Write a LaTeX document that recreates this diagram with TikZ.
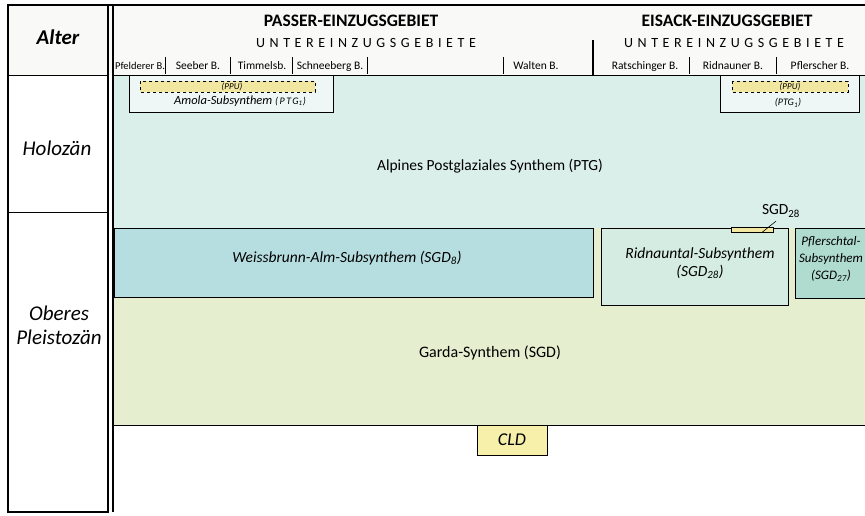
\documentclass[tikz,border=0pt]{standalone}
\usepackage{fontspec}
\setmainfont{Carlito}
\definecolor{hdrcol}{RGB}{249,249,247}
\definecolor{ptgcol}{RGB}{219,239,234}
\definecolor{wbacol}{RGB}{182,222,224}
\definecolor{ridcol}{RGB}{212,236,226}
\definecolor{pflcol}{RGB}{176,219,207}
\definecolor{sgdcol}{RGB}{229,239,207}
\definecolor{cldcol}{RGB}{246,240,170}
\definecolor{ppucol}{RGB}{241,231,160}
\definecolor{amocol}{RGB}{238,247,245}
\begin{document}
\begin{tikzpicture}[x=1pt,y=-1pt,line width=1pt,
  txt/.style={font=\fontsize{15.5}{18}\selectfont},
  itxt/.style={font=\fontsize{15.5}{18}\selectfont\itshape},
  age/.style={font=\fontsize{21}{24}\selectfont\itshape,align=center},
  head/.style={font=\fontsize{17.5}{20}\selectfont\bfseries},
  spaced/.style={font=\fontsize{14}{16}\selectfont\addfontfeature{LetterSpace=33}},
  basin/.style={font=\fontsize{11.5}{13}\selectfont,inner sep=0pt},
  sep/.style={line width=0.7pt}]
\useasboundingbox (0,0) rectangle (865,515);
% 背景色块
\fill[hdrcol] (8,5) rectangle (865,75);
\fill[ptgcol] (114,75) rectangle (865,228);
\fill[sgdcol] (114,228) rectangle (865,425);
% 年代栏与表头框线
\draw[line width=1.5pt] (8,5) rectangle (108,512);
\draw (8,75) -- (108,75);
\draw (8,212) -- (108,212);
\draw[line width=1.5pt] (113,5) -- (113,512);
\draw[line width=1.5pt] (108,5) -- (865,5);
\draw (113,75) -- (865,75);
\node[font=\fontsize{21}{24}\selectfont\bfseries\itshape] (alter) at (58,37) {Alter};
\node[age] (holo) at (57,148) {Holozän};
\node[age] (pleist) at (59,325) {Oberes\\Pleistozän};
% 流域表头
\node[head] (passer) at (351,21) {PASSER-EINZUGSGEBIET};
\node[spaced] (upasser) at (366,43) {UNTEREINZUGSGEBIETE};
\node[head] (eisack) at (727,21) {EISACK-EINZUGSGEBIET};
\node[spaced] (ueisack) at (734,43) {UNTEREINZUGSGEBIETE};
\draw[line width=1.2pt] (593,40) -- (593,75);
% 子流域
\node[basin,font=\fontsize{10.5}{12}\selectfont] (pfelderer) at (140,66) {Pfelderer B.};
\node[basin] (seeber) at (198,66) {Seeber B.};
\node[basin] (timmels) at (262,66) {Timmelsb.};
\node[basin] (schneeberg) at (330,66) {Schneeberg B.};
\node[basin] (walten) at (536,66) {Walten B.};
\node[basin] (ratsch) at (645,66) {Ratschinger B.};
\node[basin] (ridnaun) at (733,66) {Ridnauner B.};
\node[basin] (pflersch) at (820,66) {Pflerscher B.};
\foreach \x in {165,230,292,367,503,689,776}
  \draw[sep] (\x,57) -- (\x,74);
% 全新世单元
\node[txt] (ptg) at (490,166) {Alpines Postglaziales Synthem (PTG)};
\draw[fill=amocol] (129,75) rectangle (333,112);
\draw[dashed,fill=ppucol,line width=0.8pt] (140,81) rectangle (315,92);
\node[font=\fontsize{9}{10}\selectfont\itshape] (ppua) at (232,86.5) {(PPU)};
\node[font=\fontsize{12.5}{14}\selectfont\itshape] (amola) at (240,101)
  {Amola-Subsynthem {\fontsize{10}{12}\selectfont\addfontfeature{LetterSpace=15}(PTG\textsubscript{1})}};
\draw[fill=amocol] (720,75) rectangle (859,112);
\draw[dashed,fill=ppucol,line width=0.8pt] (732,81) rectangle (848,92);
\node[font=\fontsize{9}{10}\selectfont\itshape] (ppub) at (790,86.5) {(PPU)};
\node[font=\fontsize{10}{11}\selectfont\itshape] (ptgb) at (788,103) {(PTG\textsubscript{1})};
% 晚更新世单元
\draw[fill=wbacol] (114,228) rectangle (593,297);
\draw[fill=ridcol] (601,228) rectangle (788,305);
\draw[fill=pflcol] (795,228) rectangle (868,298);
\draw (113,425) -- (865,425);
\node[itxt] (wba) at (347,258) {Weissbrunn-Alm-Subsynthem (SGD\textsubscript{8})};
\node[itxt,align=center] (rid) at (700,263) {Ridnauntal-Subsynthem\\(SGD\textsubscript{28})};
\node[font=\fontsize{13}{17}\selectfont\itshape,align=center] (pfl) at (831,259)
  {Pflerschtal-\\Subsynthem\\(SGD\textsubscript{27})};
\node[draw,fill=ppucol,minimum width=42pt,minimum height=5pt,inner sep=0pt,line width=0.8pt] (sgdbox) at (752,229.5) {};
\node[txt] (sgdlbl) at (781,211) {SGD\textsubscript{28}};
\draw[line width=0.6pt] ([xshift=10pt]sgdbox.south) -- ([xshift=-5pt]sgdlbl.south);
\node[font=\fontsize{16}{18}\selectfont] (garda) at (490,353) {Garda-Synthem (SGD)};
\node[draw,fill=cldcol,font=\fontsize{18}{20}\selectfont\itshape,minimum width=70pt,minimum height=30pt] (cld) at (512,440) {CLD};
\end{tikzpicture}
\end{document}
